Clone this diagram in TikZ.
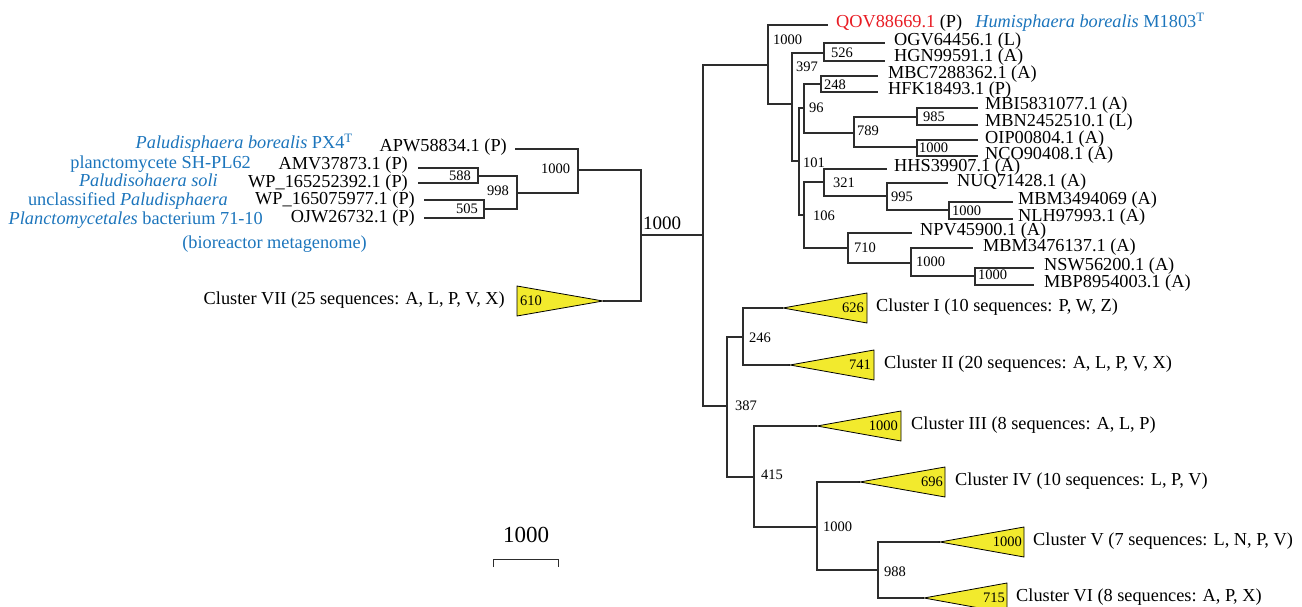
\documentclass[tikz,border=0pt]{standalone}
\usepackage{fontspec}
\setmainfont{Liberation Serif}
\definecolor{bl}{RGB}{28,117,188}
\definecolor{rd}{RGB}{232,28,36}
\definecolor{yl}{RGB}{242,234,45}
\definecolor{ln}{RGB}{45,45,45}
\tikzset{
  br/.style={draw=ln, line width=1.3pt},
  leaf/.style={anchor=west, inner sep=0pt, font=\fontsize{18.3}{20}\selectfont, text height=11.5pt, text depth=2pt},
  leafR/.style={leaf, anchor=east},
  bsv/.style={anchor=west, inner sep=0pt, font=\fontsize{14.5}{16}\selectfont},
  clade/.style={draw=black, line width=0.8pt, fill=yl},
}
\begin{document}
\begin{tikzpicture}[x=1pt,y=-1pt]
\useasboundingbox (0,0) rectangle (1302,607);
% ---------- coordinates ----------
\coordinate (R0) at (641,235);
\coordinate (R) at (703,235);
\coordinate (T) at (768,65);
\coordinate (B) at (727,406);
\coordinate (L) at (578,170);
% top clade
\coordinate (lQOV) at (828,25);
\coordinate (n397) at (792,104);
\coordinate (n526) at (824,53);
\coordinate (lOGV) at (885,43);
\coordinate (lHGN) at (885,61);
\coordinate (n101) at (799,161);
\coordinate (n96) at (804,108);
\coordinate (n248) at (821,84);
\coordinate (lMBC) at (878,76);
\coordinate (lHFK) at (878,92);
\coordinate (n789) at (854,133);
\coordinate (n985) at (917,117);
\coordinate (lMBI) at (978,108);
\coordinate (lMBN) at (978,125);
\coordinate (n1a) at (917,147);
\coordinate (lOIP) at (978,140);
\coordinate (lNCO) at (978,156);
\coordinate (n106) at (804,215);
\coordinate (n321) at (824,182);
\coordinate (lHHS) at (887,169);
\coordinate (n995) at (887,196);
\coordinate (lNUQ) at (948,183);
\coordinate (n1b) at (949,210);
\coordinate (lMBMa) at (1013,202);
\coordinate (lNLH) at (1013,219);
\coordinate (n710) at (848,248);
\coordinate (lNPV) at (912,233);
\coordinate (n1c) at (911,263);
\coordinate (lMBMb) at (973,248);
\coordinate (n1d) at (975,276);
\coordinate (lNSW) at (1034,268);
\coordinate (lMBP) at (1034,285);
% lower clade
\coordinate (n246) at (743,337);
\coordinate (a1) at (783,308);
\coordinate (a2) at (790,365);
\coordinate (n415) at (754,477);
\coordinate (a3) at (817,426);
\coordinate (n1e) at (817,527);
\coordinate (a4) at (860,482);
\coordinate (n988) at (878,570);
\coordinate (a5) at (940,542);
\coordinate (a6) at (924,598);
\coordinate (a7) at (603,301);
% left group
\coordinate (lAPW) at (515,149);
\coordinate (n998) at (517,193);
\coordinate (n588) at (478,176);
\coordinate (lAMV) at (418,168);
\coordinate (lWPa) at (418,183);
\coordinate (n505) at (484,209);
\coordinate (lWPb) at (424,200);
\coordinate (lOJW) at (424,218);

% ---------- branches ----------
\draw[br] (R0) -- (R);
\draw[br] (R) |- (T);
\draw[br] (R) |- (B);
\draw[br] (R0) |- (L);
\draw[br] (R0) |- (a7);
% top clade
\draw[br] (T) |- (lQOV);
\draw[br] (T) |- (n397);
\draw[br] (n397) |- (n526);
\draw[br] (n526) |- (lOGV);
\draw[br] (n526) |- (lHGN);
\draw[br] (n397) |- (n101);
\draw[br] (n101) |- (n96);
\draw[br] (n96) |- (n248);
\draw[br] (n248) |- (lMBC);
\draw[br] (n248) |- (lHFK);
\draw[br] (n96) |- (n789);
\draw[br] (n789) |- (n985);
\draw[br] (n985) |- (lMBI);
\draw[br] (n985) |- (lMBN);
\draw[br] (n789) |- (n1a);
\draw[br] (n1a) |- (lOIP);
\draw[br] (n1a) |- (lNCO);
\draw[br] (n101) |- (n106);
\draw[br] (n106) |- (n321);
\draw[br] (n321) |- (lHHS);
\draw[br] (n321) |- (n995);
\draw[br] (n995) |- (lNUQ);
\draw[br] (n995) |- (n1b);
\draw[br] (n1b) |- (lMBMa);
\draw[br] (n1b) |- (lNLH);
\draw[br] (n106) |- (n710);
\draw[br] (n710) |- (lNPV);
\draw[br] (n710) |- (n1c);
\draw[br] (n1c) |- (lMBMb);
\draw[br] (n1c) |- (n1d);
\draw[br] (n1d) |- (lNSW);
\draw[br] (n1d) |- (lMBP);
% lower clade
\draw[br] (B) |- (n246);
\draw[br] (n246) |- (a1);
\draw[br] (n246) |- (a2);
\draw[br] (B) |- (n415);
\draw[br] (n415) |- (a3);
\draw[br] (n415) |- (n1e);
\draw[br] (n1e) |- (a4);
\draw[br] (n1e) |- (n988);
\draw[br] (n988) |- (a5);
\draw[br] (n988) |- (a6);
% left group
\draw[br] (L) |- (lAPW);
\draw[br] (L) |- (n998);
\draw[br] (n998) |- (n588);
\draw[br] (n588) |- (lAMV);
\draw[br] (n588) |- (lWPa);
\draw[br] (n998) |- (n505);
\draw[br] (n505) |- (lWPb);
\draw[br] (n505) |- (lOJW);

% ---------- collapsed clusters ----------
\draw[clade] (a1) -- ++(84,-15) -- ++(0,30) -- cycle;
\draw[clade] (a2) -- ++(84,-15) -- ++(0,30) -- cycle;
\draw[clade] (a3) -- ++(84,-15) -- ++(0,30) -- cycle;
\draw[clade] (a4) -- ++(85,-15) -- ++(0,30) -- cycle;
\draw[clade] (a5) -- ++(84,-15) -- ++(0,30) -- cycle;
\draw[clade] (a6) -- ++(83,-15) -- ++(0,30) -- cycle;
\draw[clade] (a7) -- ++(-86,-15) -- ++(0,30) -- cycle;
\node[bsv, anchor=east] (b626) at (864,308) {626};
\node[bsv, anchor=east] (b741) at (871,365) {741};
\node[bsv, anchor=east] (b1000c3) at (898,426) {1000};
\node[bsv, anchor=east] (b696) at (943,482) {696};
\node[bsv, anchor=east] (b1000c5) at (1022,542) {1000};
\node[bsv, anchor=east] (b715) at (1005,598) {715};
\node[bsv] (b610) at (520,301) {610};

% ---------- leaf labels (top clade) ----------
\node[leaf] (tQOV) at (836,23) {\textcolor{rd}{QOV88669.1} (P)\hspace{8.5pt} \textcolor{bl}{\textit{Humisphaera borealis} M1803\textsuperscript{T}}};
\node[leaf] (tOGV) at (894,41) {OGV64456.1 (L)};
\node[leaf] (tHGN) at (894,57) {HGN99591.1 (A)};
\node[leaf] (tMBC) at (888,74) {MBC7288362.1 (A)};
\node[leaf] (tHFK) at (888,90) {HFK18493.1 (P)};
\node[leaf] (tMBI) at (985,105) {MBI5831077.1 (A)};
\node[leaf] (tMBN) at (985,122) {MBN2452510.1 (L)};
\node[leaf] (tOIP) at (985,139) {OIP00804.1 (A)};
\node[leaf] (tNCO) at (985,155) {NCO90408.1 (A)};
\node[leaf] (tHHS) at (894,167) {HHS39907.1 (A)};
\node[leaf] (tNUQ) at (957,182) {NUQ71428.1 (A)};
\node[leaf] (tMBMa) at (1018,200) {MBM3494069 (A)};
\node[leaf] (tNLH) at (1018,217) {NLH97993.1 (A)};
\node[leaf] (tNPV) at (920,231) {NPV45900.1 (A)};
\node[leaf] (tMBMb) at (983,247) {MBM3476137.1 (A)};
\node[leaf] (tNSW) at (1044,266) {NSW56200.1 (A)};
\node[leaf] (tMBP) at (1044,283) {MBP8954003.1 (A)};

% ---------- left leaf labels ----------
\node[leafR] (tAPW) at (507,147) {APW58834.1 (P)};
\node[leafR] (tAMV) at (408,165) {AMV37873.1 (P)};
\node[leafR] (tWPa) at (408,183) {WP\_165252392.1 (P)};
\node[leafR] (tWPb) at (415,200) {WP\_165075977.1 (P)};
\node[leafR] (tOJW) at (415,218) {OJW26732.1 (P)};
\node[leafR, text=bl] (sPal) at (353,144) {\textit{Paludisphaera borealis} PX4\textsuperscript{T}};
\node[leafR, text=bl] (sSH) at (251,164) {planctomycete SH-PL62};
\node[leafR, text=bl] (sSoli) at (218,182) {\textit{Paludisohaera soli}};
\node[leafR, text=bl] (sUnc) at (228,201) {unclassified \textit{Paludisphaera}};
\node[leafR, text=bl] (sPla) at (263,220) {\textit{Planctomycetales} bacterium 71-10};
\node[leafR, text=bl] (sBio) at (367,244) {(bioreactor metagenome)};

% ---------- cluster labels ----------
\node[leaf] (cI) at (876,307) {Cluster I (10 sequences: P, W, Z)};
\node[leaf] (cII) at (884,364) {Cluster II (20 sequences: A, L, P, V, X)};
\node[leaf] (cIII) at (911,425) {Cluster III (8 sequences: A, L, P)};
\node[leaf] (cIV) at (955,481) {Cluster IV (10 sequences: L, P, V)};
\node[leaf] (cV) at (1033,541) {Cluster V (7 sequences: L, N, P, V)};
\node[leaf] (cVI) at (1016,597) {Cluster VI (8 sequences: A, P, X)};
\node[leafR] (cVII) at (505,300) {Cluster VII (25 sequences: A, L, P, V, X)};

% ---------- bootstrap values ----------
\node[bsv, font=\fontsize{19}{21}\selectfont] (bR) at (643,223) {1000};
\node[bsv] (bL) at (541,169) {1000};
\node[bsv] (b588) at (449,176) {588};
\node[bsv] (b998) at (487,191) {998};
\node[bsv] (b505) at (456,209) {505};
\node[bsv] (bT) at (773,40) {1000};
\node[bsv] (b526) at (831,53) {526};
\node[bsv] (b397) at (796,67) {397};
\node[bsv] (b248) at (824,85) {248};
\node[bsv] (b96) at (809,108) {96};
\node[bsv] (b985) at (923,117) {985};
\node[bsv] (b789) at (857,131) {789};
\node[bsv] (b1a) at (919,148) {1000};
\node[bsv] (b101) at (803,163) {101};
\node[bsv] (b321) at (833,183) {321};
\node[bsv] (b995) at (891,197) {995};
\node[bsv] (b1b) at (952,211) {1000};
\node[bsv] (b106) at (813,216) {106};
\node[bsv] (b710) at (854,248) {710};
\node[bsv] (b1c) at (916,262) {1000};
\node[bsv] (b1d) at (978,275) {1000};
\node[bsv] (b246) at (749,338) {246};
\node[bsv] (b387) at (735,406) {387};
\node[bsv] (b415) at (761,475) {415};
\node[bsv] (b1e) at (823,527) {1000};
\node[bsv] (b988) at (884,572) {988};

% ---------- scale bar ----------
\coordinate (s1) at (493,559);
\coordinate (s2) at (558,559);
\draw[draw=ln, line width=1pt] ([yshift=-8]s1) -- (s1) -- (s2) -- ([yshift=-8]s2);
\node[inner sep=0pt, font=\fontsize{23}{26}\selectfont] (sl) at (526,535) {1000};
\end{tikzpicture}
\end{document}
